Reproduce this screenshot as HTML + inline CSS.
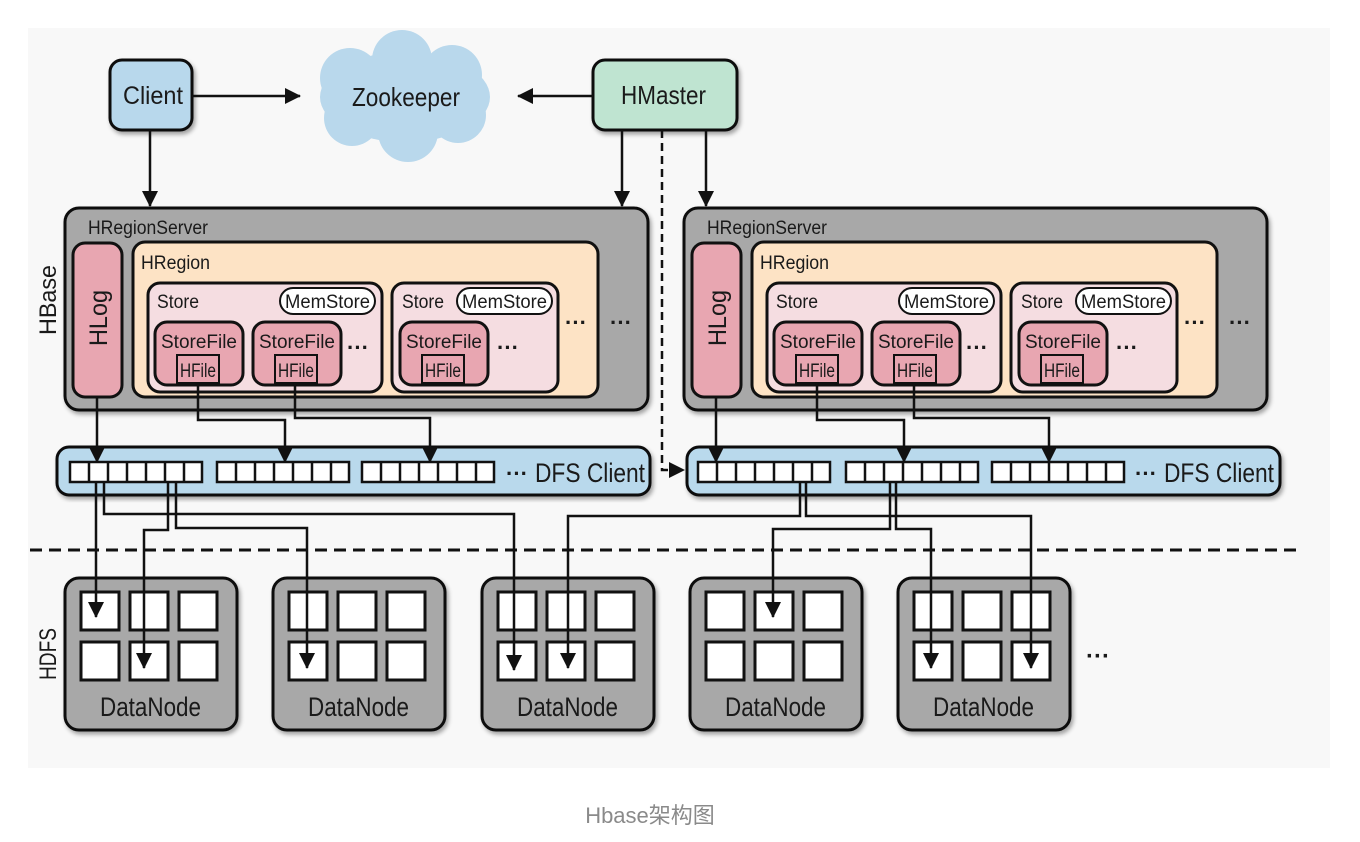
<!DOCTYPE html>
<html><head><meta charset="utf-8"><style>
html,body{margin:0;padding:0;background:#fff;}
svg{display:block;}
text{font-family:"Liberation Sans",sans-serif;fill:#1a1a1a;}
</style></head><body>
<svg width="1360" height="842" viewBox="0 0 1360 842" xmlns="http://www.w3.org/2000/svg">
<defs>
<marker id="ahb" markerWidth="16" markerHeight="16" refX="15" refY="8" orient="auto" markerUnits="userSpaceOnUse" viewBox="0 0 16 16">
<path d="M0,0 L16,8 L0,16 z" fill="#111"/></marker>
<filter id="sh" x="-5%" y="-5%" width="115%" height="120%"><feDropShadow dx="2" dy="3" stdDeviation="2" flood-color="#000" flood-opacity="0.35"/></filter>
<g id="blk">
<rect x="0" y="0" width="132" height="20" fill="#fff" stroke="#111" stroke-width="2.5"/>
<path d="M19,0v20M38,0v20M57,0v20M76,0v20M95,0v20M114,0v20" stroke="#111" stroke-width="2.5"/>
</g>
<g id="dn">
<rect x="0" y="0" width="172" height="152" rx="14" fill="#a8a8a8" stroke="#111" stroke-width="3" filter="url(#sh)"/>
<g fill="#fff" stroke="#111" stroke-width="3">
<rect x="16" y="14" width="38" height="38"/><rect x="65" y="14" width="38" height="38"/><rect x="114" y="14" width="38" height="38"/>
<rect x="16" y="64" width="38" height="38"/><rect x="65" y="64" width="38" height="38"/><rect x="114" y="64" width="38" height="38"/>
</g>
</g>
</defs>
<rect x="28" y="28" width="1302" height="740" fill="#f8f8f8"/>

<!-- top -->
<rect x="110" y="60" width="82" height="70" rx="12" fill="#b8d8ec" stroke="#111" stroke-width="3" filter="url(#sh)"/>
<text x="123" y="104" font-size="25" textLength="60" lengthAdjust="spacingAndGlyphs">Client</text>
<g fill="#b9d8ec">
<ellipse cx="405" cy="97" rx="85" ry="45"/>
<circle cx="350" cy="78" r="30"/><circle cx="402" cy="60" r="30"/><circle cx="452" cy="75" r="30"/>
<circle cx="352" cy="118" r="28"/><circle cx="408" cy="132" r="30"/><circle cx="458" cy="115" r="28"/>
</g>
<text x="352" y="106" font-size="26" textLength="108" lengthAdjust="spacingAndGlyphs">Zookeeper</text>
<rect x="593" y="60" width="144" height="70" rx="12" fill="#bfe4d1" stroke="#111" stroke-width="3" filter="url(#sh)"/>
<text x="621" y="104" font-size="26" textLength="85" lengthAdjust="spacingAndGlyphs">HMaster</text>
<g stroke="#111" stroke-width="2.5" fill="none">
<line x1="192" y1="96" x2="300" y2="96" marker-end="url(#ahb)"/>
<line x1="593" y1="96" x2="518" y2="96" marker-end="url(#ahb)"/>
<line x1="150" y1="130" x2="150" y2="206" marker-end="url(#ahb)"/>
<line x1="622" y1="130" x2="622" y2="206" marker-end="url(#ahb)"/>
<line x1="706" y1="130" x2="706" y2="206" marker-end="url(#ahb)"/>
<polyline points="662,130 662,470 684,470" stroke-dasharray="8,5" marker-end="url(#ahb)"/>
</g>

<text transform="translate(56,335) rotate(-90)" font-size="24" textLength="70" lengthAdjust="spacingAndGlyphs">HBase</text>
<text transform="translate(56,680) rotate(-90)" font-size="24" textLength="52" lengthAdjust="spacingAndGlyphs">HDFS</text>

<!-- servers -->
<g id="srv">
<rect x="65" y="208" width="583" height="202" rx="14" fill="#a8a8a8" stroke="#111" stroke-width="3" filter="url(#sh)"/>
<text x="88" y="234" font-size="19" textLength="120" lengthAdjust="spacingAndGlyphs">HRegionServer</text>
<rect x="73" y="243" width="49" height="154" rx="12" fill="#e8a6b1" stroke="#111" stroke-width="3"/>
<text transform="translate(107,346) rotate(-90)" font-size="25" textLength="56" lengthAdjust="spacingAndGlyphs">HLog</text>
<rect x="133" y="242" width="465" height="155" rx="12" fill="#fde3c5" stroke="#111" stroke-width="3"/>
<text x="141" y="269" font-size="19" textLength="69" lengthAdjust="spacingAndGlyphs">HRegion</text>
<rect x="148" y="283" width="234" height="109" rx="12" fill="#f5dde1" stroke="#111" stroke-width="3"/>
<text x="157" y="308" font-size="19" textLength="42" lengthAdjust="spacingAndGlyphs">Store</text>
<rect x="280" y="288" width="95" height="26" rx="13" fill="#fff" stroke="#111" stroke-width="2"/>
<text x="285" y="308" font-size="19" textLength="85" lengthAdjust="spacingAndGlyphs">MemStore</text>
<rect x="155" y="322" width="88" height="63" rx="12" fill="#e8a6b1" stroke="#111" stroke-width="3"/>
<text x="161" y="348" font-size="19" textLength="76" lengthAdjust="spacingAndGlyphs">StoreFile</text>
<rect x="177" y="355" width="42" height="28" fill="#e8a6b1" stroke="#111" stroke-width="2"/>
<text x="180" y="377" font-size="19" textLength="36" lengthAdjust="spacingAndGlyphs">HFile</text>
<rect x="253" y="322" width="88" height="63" rx="12" fill="#e8a6b1" stroke="#111" stroke-width="3"/>
<text x="259" y="348" font-size="19" textLength="76" lengthAdjust="spacingAndGlyphs">StoreFile</text>
<rect x="275" y="355" width="42" height="28" fill="#e8a6b1" stroke="#111" stroke-width="2"/>
<text x="278" y="377" font-size="19" textLength="36" lengthAdjust="spacingAndGlyphs">HFile</text>
<text x="347" y="355" font-size="22" font-weight="bold">···</text>
<rect x="392" y="283" width="166" height="109" rx="12" fill="#f5dde1" stroke="#111" stroke-width="3"/>
<text x="402" y="308" font-size="19" textLength="42" lengthAdjust="spacingAndGlyphs">Store</text>
<rect x="457" y="288" width="95" height="26" rx="13" fill="#fff" stroke="#111" stroke-width="2"/>
<text x="462" y="308" font-size="19" textLength="85" lengthAdjust="spacingAndGlyphs">MemStore</text>
<rect x="400" y="322" width="88" height="63" rx="12" fill="#e8a6b1" stroke="#111" stroke-width="3"/>
<text x="406" y="348" font-size="19" textLength="76" lengthAdjust="spacingAndGlyphs">StoreFile</text>
<rect x="422" y="355" width="42" height="28" fill="#e8a6b1" stroke="#111" stroke-width="2"/>
<text x="425" y="377" font-size="19" textLength="36" lengthAdjust="spacingAndGlyphs">HFile</text>
<text x="497" y="355" font-size="22" font-weight="bold">···</text>
<text x="565" y="330" font-size="22" font-weight="bold">···</text>
<text x="610" y="330" font-size="22" font-weight="bold">···</text>
</g>
<use href="#srv" transform="translate(619,0)"/>

<!-- DFS clients -->
<rect x="57" y="447" width="593" height="48" rx="12" fill="#b9d9ec" stroke="#111" stroke-width="3" filter="url(#sh)"/>
<use href="#blk" x="70" y="462"/><use href="#blk" x="217" y="462"/><use href="#blk" x="362" y="462"/>
<text x="506" y="481" font-size="22" font-weight="bold">···</text>
<text x="535" y="482" font-size="27" textLength="110" lengthAdjust="spacingAndGlyphs">DFS Client</text>
<rect x="687" y="447" width="593" height="48" rx="12" fill="#b9d9ec" stroke="#111" stroke-width="3" filter="url(#sh)"/>
<use href="#blk" x="698" y="462"/><use href="#blk" x="846" y="462"/><use href="#blk" x="992" y="462"/>
<text x="1135" y="481" font-size="22" font-weight="bold">···</text>
<text x="1164" y="482" font-size="27" textLength="110" lengthAdjust="spacingAndGlyphs">DFS Client</text>

<line x1="30" y1="550" x2="1296" y2="550" stroke="#111" stroke-width="3" stroke-dasharray="12,7"/>

<use href="#dn" x="65" y="578"/><use href="#dn" x="273" y="578"/><use href="#dn" x="482" y="578"/><use href="#dn" x="690" y="578"/><use href="#dn" x="898" y="578"/>
<g font-size="27">
<text x="100" y="716" textLength="101" lengthAdjust="spacingAndGlyphs">DataNode</text>
<text x="308" y="716" textLength="101" lengthAdjust="spacingAndGlyphs">DataNode</text>
<text x="517" y="716" textLength="101" lengthAdjust="spacingAndGlyphs">DataNode</text>
<text x="725" y="716" textLength="101" lengthAdjust="spacingAndGlyphs">DataNode</text>
<text x="933" y="716" textLength="101" lengthAdjust="spacingAndGlyphs">DataNode</text>
</g>
<text x="1086" y="664" font-size="24" font-weight="bold">···</text>

<g stroke="#111" stroke-width="2.5" fill="none">
<line x1="97" y1="397" x2="97" y2="462" marker-end="url(#ahb)"/>
<polyline points="198,383 198,420 285,420 285,462" marker-end="url(#ahb)"/>
<polyline points="295,383 295,418 430,418 430,462" marker-end="url(#ahb)"/>
<line x1="716" y1="397" x2="716" y2="462" marker-end="url(#ahb)"/>
<polyline points="817,383 817,420 904,420 904,462" marker-end="url(#ahb)"/>
<polyline points="914,383 914,418 1049,418 1049,462" marker-end="url(#ahb)"/>
<line x1="96" y1="482" x2="96" y2="617" marker-end="url(#ahb)"/>
<polyline points="104,482 104,514 514,514 514,670" marker-end="url(#ahb)"/>
<polyline points="168,482 168,530 144,530 144,668" marker-end="url(#ahb)"/>
<polyline points="176,482 176,528 307,528 307,668" marker-end="url(#ahb)"/>
<polyline points="800,482 800,516 568,516 568,668" marker-end="url(#ahb)"/>
<polyline points="806,482 806,516 1031,516 1031,668" marker-end="url(#ahb)"/>
<polyline points="890,482 890,529 773,529 773,617" marker-end="url(#ahb)"/>
<polyline points="896,482 896,529 931,529 931,668" marker-end="url(#ahb)"/>
</g>

<text x="650" y="823" font-size="22" style="fill:#8a8a8a;font-family:'Liberation Sans','Noto Sans CJK SC',sans-serif" text-anchor="middle">Hbase架构图</text>
</svg>
</body></html>
